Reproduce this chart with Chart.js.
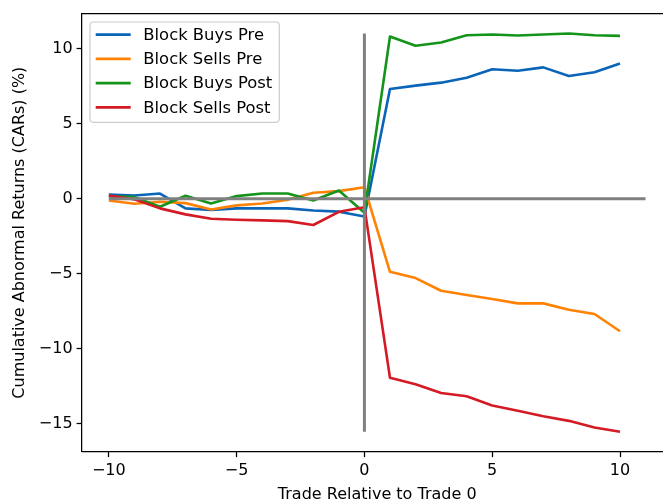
<!DOCTYPE html>
<html>
<head>
<meta charset="utf-8">
<script src="https://cdn.jsdelivr.net/npm/chart.js@4.4.1/dist/chart.umd.min.js"></script>
<style>
  html, body { margin: 0; padding: 0; background: #fff; overflow: hidden; }
  #wrap { width: 663px; height: 500px; overflow: hidden; position: relative; }
  canvas { display: block; }
</style>
</head>
<body>
<div id="wrap"><canvas id="car" width="680" height="500"></canvas></div>
<script>
// Event window: trades relative to trade 0
const offsets = [-10, -9, -8, -7, -6, -5, -4, -3, -2, -1, 0, 1, 2, 3, 4, 5, 6, 7, 8, 9, 10];

// Cumulative abnormal returns (%)
const blockBuysPre   = [0.28, 0.21, 0.34, -0.65, -0.76, -0.65, -0.65, -0.65, -0.79, -0.87, -1.19,
                        7.32, 7.54, 7.74, 8.07, 8.63, 8.54, 8.76, 8.18, 8.43, 9.02];
const blockSellsPre  = [-0.12, -0.34, -0.21, -0.30, -0.72, -0.45, -0.32, -0.08, 0.39, 0.50, 0.76,
                        -4.88, -5.30, -6.15, -6.43, -6.70, -6.99, -6.99, -7.41, -7.70, -8.85];
const blockBuysPost  = [0.15, 0.10, -0.54, 0.19, -0.32, 0.17, 0.34, 0.34, -0.12, 0.54, -0.94,
                        10.82, 10.20, 10.42, 10.90, 10.95, 10.89, 10.95, 11.02, 10.90, 10.86];
const blockSellsPost = [0.21, -0.05, -0.65, -1.05, -1.34, -1.41, -1.45, -1.50, -1.76, -0.88, -0.57,
                        -11.95, -12.39, -12.97, -13.19, -13.81, -14.16, -14.52, -14.83, -15.27, -15.56];

const seriesNames  = ['Block Buys Pre', 'Block Sells Pre', 'Block Buys Post', 'Block Sells Post'];
const seriesValues = [blockBuysPre, blockSellsPre, blockBuysPost, blockSellsPost];
const seriesColors = ['#0a64b8', '#ff8205', '#14941a', '#d41a24'];

// Reference lines: zero return across the window, and trade 0 spanning the data range
const zeroLineX = [-10, 11];
const allValues = seriesValues.flat();
const tradeZeroY = [Math.min(...allValues), Math.max(...allValues)];

const xTicks = [-10, -5, 0, 5, 10];
const yTicks = [-15, -10, -5, 0, 5, 10];

// Axis limits with a 5% margin around the plotted extent
const xLo = Math.min(offsets[0], zeroLineX[0]), xHi = Math.max(offsets[offsets.length - 1], zeroLineX[1]);
const yLo = tradeZeroY[0], yHi = tradeZeroY[1];
const xPad = (xHi - xLo) * 0.05, yPad = (yHi - yLo) * 0.05;

const FONT = 'DejaVu Sans';
const FS = 16;
const minusFmt = v => (v < 0 ? '\u2212' + Math.abs(v) : String(v));

const datasets = seriesValues.map((vals, i) => ({
  label: seriesNames[i],
  data: offsets.map((x, k) => ({ x: x, y: vals[k] })),
  borderColor: seriesColors[i],
  backgroundColor: seriesColors[i],
  borderWidth: 2.6,
  pointRadius: 0,
  tension: 0,
  fill: false,
  borderJoinStyle: 'round',
  order: 4 - i
}));
datasets.push({
  label: 'zero',
  data: zeroLineX.map(x => ({ x: x, y: 0 })),
  borderColor: '#808080', borderWidth: 3, pointRadius: 0, fill: false, order: 0
});
datasets.push({
  label: 'trade0',
  data: tradeZeroY.map(y => ({ x: 0, y: y })),
  borderColor: '#808080', borderWidth: 3, pointRadius: 0, fill: false, order: 0
});

// Top and bottom spines of the plot box
const framePlugin = {
  id: 'frame',
  afterDraw(chart) {
    const { ctx, chartArea: a } = chart;
    ctx.save();
    ctx.strokeStyle = '#000';
    ctx.lineWidth = 1.25;
    ctx.beginPath();
    ctx.moveTo(a.left, a.top);
    ctx.lineTo(a.right, a.top);
    ctx.moveTo(a.left, a.bottom);
    ctx.lineTo(a.right, a.bottom);
    ctx.stroke();
    ctx.restore();
  }
};

// Legend box in the upper-left corner of the plot
const legendPlugin = {
  id: 'cornerLegend',
  afterDraw(chart) {
    const { ctx, chartArea: a } = chart;
    const bx = a.left + 8, by = a.top + 8.4, bw = 189.3, bh = 100.3, r = 3.5;
    ctx.save();
    ctx.beginPath();
    ctx.moveTo(bx + r, by);
    ctx.lineTo(bx + bw - r, by);
    ctx.arcTo(bx + bw, by, bx + bw, by + r, r);
    ctx.lineTo(bx + bw, by + bh - r);
    ctx.arcTo(bx + bw, by + bh, bx + bw - r, by + bh, r);
    ctx.lineTo(bx + r, by + bh);
    ctx.arcTo(bx, by + bh, bx, by + bh - r, r);
    ctx.lineTo(bx, by + r);
    ctx.arcTo(bx, by, bx + r, by, r);
    ctx.closePath();
    ctx.fillStyle = 'rgba(255,255,255,0.8)';
    ctx.fill();
    ctx.strokeStyle = '#cccccc';
    ctx.lineWidth = 1.2;
    ctx.stroke();

    ctx.font = '16.4px "' + FONT + '"';
    ctx.textBaseline = 'middle';
    ctx.textAlign = 'left';
    chart.data.datasets.slice(0, seriesNames.length).forEach((ds, i) => {
      const y = by + 12.6 + i * 24.25;
      ctx.strokeStyle = ds.borderColor;
      ctx.lineWidth = 2.6;
      ctx.beginPath();
      ctx.moveTo(bx + 5.7, y);
      ctx.lineTo(bx + 40.7, y);
      ctx.stroke();
      ctx.fillStyle = '#000';
      ctx.fillText(ds.label, bx + 53.3, y + 1);
    });
    ctx.restore();
  }
};

new Chart(document.getElementById('car'), {
  type: 'line',
  data: { datasets: datasets },
  plugins: [framePlugin, legendPlugin],
  options: {
    responsive: false,
    animation: false,
    devicePixelRatio: 1,
    layout: { padding: { top: 12.3, right: 7.6, left: 0, bottom: 0 } },
    plugins: { legend: { display: false }, tooltip: { enabled: false } },
    scales: {
      x: {
        type: 'linear',
        min: xLo - xPad,
        max: xHi + xPad,
        afterFit(s) { s.height = 48.3; },
        afterBuildTicks(s) { s.ticks = xTicks.map(v => ({ value: v })); },
        grid: { drawOnChartArea: false, drawTicks: true, tickLength: 5.4, tickWidth: 1.25, tickColor: '#000' },
        border: { display: false },
        ticks: { color: '#000', padding: 4, maxRotation: 0, autoSkip: false, font: { family: FONT, size: FS }, callback: minusFmt },
        title: { display: true, text: 'Trade Relative to Trade 0', color: '#000', font: { family: FONT, size: FS, lineHeight: 1 }, padding: { top: 0, bottom: -2.5 } }
      },
      y: {
        type: 'linear',
        min: yLo - yPad,
        max: yHi + yPad,
        afterFit(s) { s.width = 82; },
        afterBuildTicks(s) { s.ticks = yTicks.map(v => ({ value: v })); },
        grid: { drawOnChartArea: false, drawTicks: true, tickLength: 5.4, tickWidth: 1.25, tickColor: '#000' },
        border: { display: true, color: '#000', width: 1.25 },
        ticks: { color: '#000', padding: 4, autoSkip: false, font: { family: FONT, size: FS }, callback: minusFmt },
        title: { display: true, text: 'Cumulative Abnormal Returns (CARs) (%)', color: '#000', font: { family: FONT, size: FS, lineHeight: 1 }, padding: { top: 12, bottom: 0 } }
      }
    }
  }
});
</script>
</body>
</html>
